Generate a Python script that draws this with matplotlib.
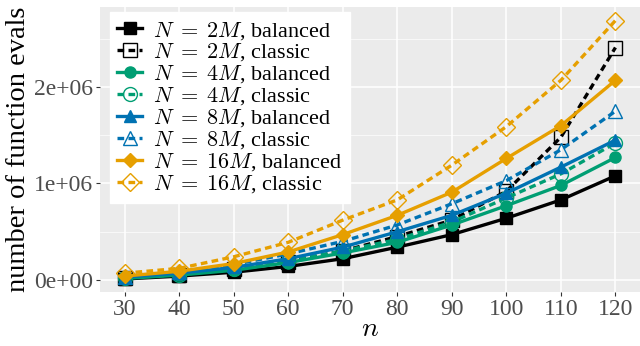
import matplotlib
matplotlib.use("Agg")
import matplotlib.pyplot as plt
from matplotlib.ticker import MultipleLocator, FuncFormatter

plt.rcParams['font.family'] = ['Liberation Serif', 'DejaVu Serif']
plt.rcParams['mathtext.fontset'] = 'cm'

n = [30, 40, 50, 60, 70, 80, 90, 100, 110, 120]

# number of function evaluations
bal_2m = [0.01e6, 0.04e6, 0.08e6, 0.14e6, 0.22e6, 0.34e6, 0.47e6, 0.64e6, 0.83e6, 1.08e6]
cla_2m = [0.02e6, 0.05e6, 0.11e6, 0.19e6, 0.30e6, 0.45e6, 0.62e6, 0.92e6, 1.48e6, 2.41e6]
bal_4m = [0.015e6, 0.05e6, 0.10e6, 0.18e6, 0.28e6, 0.39e6, 0.57e6, 0.77e6, 0.98e6, 1.27e6]
cla_4m = [0.02e6, 0.055e6, 0.11e6, 0.20e6, 0.30e6, 0.42e6, 0.60e6, 0.85e6, 1.10e6, 1.42e6]
bal_8m = [0.03e6, 0.07e6, 0.13e6, 0.22e6, 0.34e6, 0.50e6, 0.67e6, 0.90e6, 1.17e6, 1.45e6]
cla_8m = [0.035e6, 0.08e6, 0.16e6, 0.27e6, 0.40e6, 0.57e6, 0.79e6, 1.03e6, 1.35e6, 1.75e6]
bal_16m = [0.04e6, 0.09e6, 0.17e6, 0.29e6, 0.47e6, 0.67e6, 0.91e6, 1.26e6, 1.60e6, 2.07e6]
cla_16m = [0.07e6, 0.12e6, 0.24e6, 0.39e6, 0.62e6, 0.83e6, 1.19e6, 1.59e6, 2.07e6, 2.69e6]

series = [
    (bal_2m, r'$N\;=\;2M$, balanced', '#000000', 's', '-', True),
    (cla_2m, r'$N\;=\;2M$, classic', '#000000', 's', '--', False),
    (bal_4m, r'$N\;=\;4M$, balanced', '#009E73', 'o', '-', True),
    (cla_4m, r'$N\;=\;4M$, classic', '#009E73', 'o', '--', False),
    (bal_8m, r'$N\;=\;8M$, balanced', '#0072B2', '^', '-', True),
    (cla_8m, r'$N\;=\;8M$, classic', '#0072B2', '^', '--', False),
    (bal_16m, r'$N\;=\;16M$, balanced', '#E69F00', 'D', '-', True),
    (cla_16m, r'$N\;=\;16M$, classic', '#E69F00', 'D', '--', False),
]

fig = plt.figure(figsize=(6.4, 3.46), dpi=100)
ax = fig.add_axes([100/640, 1 - 292/346, 540/640, 285/346])
ax.set_facecolor('#EBEBEB')

for vals, lab, col, mk, ls, filled in series:
    ms = 8 if mk != 'D' else 7
    if filled:
        ax.plot(n, vals, color=col, ls=ls, lw=2.4, marker=mk, ms=ms,
                mfc=col, mec=col, label=lab)
    else:
        ax.plot(n, vals, color=col, ls=ls, lw=2.4, marker=mk, ms=ms + 2,
                mfc='none', mec=col, mew=1.0, label=lab, dashes=(2, 1.3))

ax.set_xlim(25.5, 124.5)
ax.set_ylim(-0.125e6, 2.83e6)
ax.xaxis.set_major_locator(MultipleLocator(10))
ax.yaxis.set_major_locator(MultipleLocator(1e6))
ax.yaxis.set_minor_locator(MultipleLocator(0.5e6))
ax.yaxis.set_major_formatter(FuncFormatter(lambda v, p: '%de+06' % round(v / 1e6) if v else '0e+00'))

ax.grid(which='major', color='white', lw=1.1)
ax.grid(which='minor', axis='y', color='white', lw=0.5)
ax.set_axisbelow(True)
for s in ax.spines.values():
    s.set_visible(False)
ax.tick_params(which='major', length=3, width=0.8, color='#333333',
               labelcolor='#4D4D4D', labelsize=17, pad=2)
ax.tick_params(which='minor', length=0)

ax.set_xlabel(r'$n$', fontsize=20, labelpad=-2)
ax.set_ylabel('number of function evals', fontsize=20.5, labelpad=2)

leg = ax.legend(loc='upper left', bbox_to_anchor=(0.018, 0.983), fontsize=16,
                frameon=True, fancybox=False, edgecolor='white', framealpha=1,
                handlelength=1.1, handletextpad=0.5, labelspacing=0.0,
                borderpad=0.35, borderaxespad=0)

fig.savefig('out.png', dpi=100)
